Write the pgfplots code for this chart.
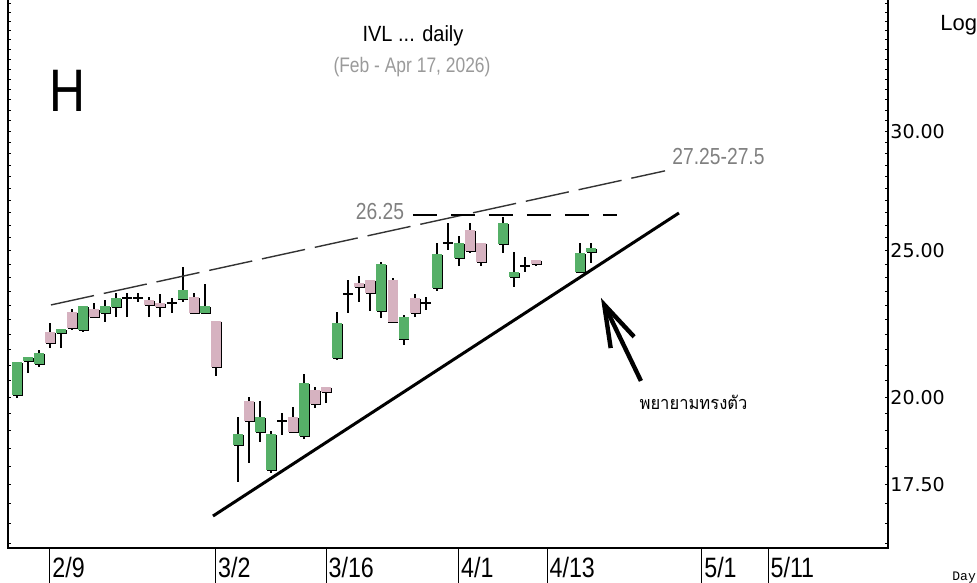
\documentclass[border=0pt]{standalone}
\usepackage{fontspec}
\setmainfont{Liberation Sans}
\newfontfamily\nar[FakeStretch=0.83]{Liberation Sans}
\newfontfamily\titlef[FakeStretch=0.91]{Liberation Sans}
\newfontfamily\dej{DejaVu Sans}
\newfontfamily\thai[Script=Thai,FakeStretch=0.92]{Loma}
\newfontfamily\mono{Liberation Mono}
\usepackage{pgfplots}
\pgfplotsset{compat=1.18}
\usetikzlibrary{arrows.meta}
\definecolor{upc}{RGB}{86,176,104}
\definecolor{dnc}{RGB}{214,178,192}
\definecolor{note}{RGB}{128,128,128}

\begin{document}
\begin{tikzpicture}
\useasboundingbox (0,0) rectangle (488.5pt,291pt);
\begin{axis}[
    at={(4pt,17pt)}, anchor=south west,
    scale only axis, width=440pt, height=276.5pt,
    ymode=log,
    xmin=0.2, xmax=79.84, ymin=15.886, ymax=36.955,
    axis line style={line width=0.7pt},
    xtick={4,19,29,41,49,63,69},
    xticklabels={2/9,3/2,3/16,4/1,4/13,5/1,5/11},
    xtick style={draw=none},
    xticklabel style={anchor=north west, inner sep=0pt, xshift=1pt, yshift=-4.5pt,
        font=\nar\fontsize{14}{14}\selectfont},
    ytick={17.5,20,25,30},
    yticklabels={17.50,20.00,25.00,30.00},
    minor ytick={16,16.5,17,17.5,18,18.5,19,19.5,20,20.5,21,21.5,22,22.5,23,23.5,24,24.5,25,25.5,
        26,26.5,27,27.5,28,28.5,29,29.5,30,30.5,31,31.5,32,32.5,33,33.5,34,34.5,35,35.5,36,36.5},
    ytick pos=both, yticklabel pos=right,
    tick align=inside, major tick length=1.6pt, minor tick length=1.6pt,
    every tick/.append style={line width=0.5pt, black},
    yticklabel style={anchor=west, inner sep=0pt, xshift=1pt,
        font=\dej\fontsize{9.5}{10}\selectfont},
    unbounded coords=jump,
    clip=false,
]
% wicks (low, high)
\addplot[black, line width=1pt] coordinates {
(1,19.97) (1,21.11) (1,nan)
(2,20.76) (2,21.27) (2,nan)
(3,20.95) (3,21.50) (3,nan)
(4,21.56) (4,22.40) (4,nan)
(5,21.56) (5,22.19) (5,nan)
(6,22.16) (6,22.88) (6,nan)
(7,22.09) (7,22.99) (7,nan)
(8,22.57) (8,23.09) (8,nan)
(9,22.43) (9,23.20) (9,nan)
(10,22.60) (10,23.45) (10,nan)
(11,22.60) (11,23.45) (11,nan)
(12,23.13) (12,23.45) (12,nan)
(13,22.60) (13,23.30) (13,nan)
(14,22.60) (14,23.41) (14,nan)
(15,22.74) (15,23.27) (15,nan)
(16,23.13) (16,24.40) (16,nan)
(17,22.74) (17,23.45) (17,nan)
(18,22.74) (18,23.77) (18,nan)
(19,20.66) (19,22.47) (19,nan)
(21,17.58) (21,19.40) (21,nan)
(22,18.09) (22,20.00) (22,nan)
(23,18.68) (23,19.88) (23,nan)
(24,17.82) (24,18.99) (24,nan)
(25,18.88) (25,19.52) (25,nan)
(26,18.96) (26,19.70) (26,nan)
(27,18.76) (27,20.72) (27,nan)
(28,19.67) (28,20.31) (28,nan)
(29,19.82) (29,20.31) (29,nan)
(30,21.17) (30,22.78) (30,nan)
(31,22.74) (31,23.92) (31,nan)
(32,23.13) (32,24.06) (32,nan)
(33,22.81) (33,23.92) (33,nan)
(34,22.57) (34,24.58) (34,nan)
(35,22.43) (35,23.99) (35,nan)
(36,21.66) (36,22.67) (36,nan)
(37,22.60) (37,23.41) (37,nan)
(38,22.85) (38,23.30) (38,nan)
(39,23.52) (39,25.31) (39,nan)
(40,25.04) (40,26.09) (40,nan)
(41,24.43) (41,25.58) (41,nan)
(42,24.92) (42,26.09) (42,nan)
(43,24.43) (43,25.31) (43,nan)
(45,24.92) (45,26.33) (45,nan)
(46,23.66) (46,24.96) (46,nan)
(47,24.21) (47,24.77) (47,nan)
(48,24.43) (48,24.66) (48,nan)
(52,24.17) (52,25.31) (52,nan)
(53,24.55) (53,25.31) (53,nan)
};
% body shadows
\addplot[black, line width=5pt, xshift=0.45pt, yshift=-0.45pt] coordinates {
(1,20.07) (1,21.11) (1,nan) (2,21.14) (2,21.27) (2,nan) (3,21.04) (3,21.40) (3,nan)
(5,22.06) (5,22.19) (5,nan) (7,22.16) (7,22.99) (7,nan) (9,22.74) (9,22.99) (9,nan)
(10,22.95) (10,23.27) (10,nan) (16,23.23) (16,23.56) (16,nan) (18,22.74) (18,22.99) (18,nan)
(21,18.59) (21,18.91) (21,nan) (23,18.96) (23,19.40) (23,nan) (24,17.90) (24,18.91) (24,nan)
(27,18.85) (27,20.44) (27,nan) (30,21.24) (30,22.40) (30,nan) (34,22.81) (34,24.51) (34,nan)
(36,21.86) (36,22.60) (36,nan) (39,23.63) (39,24.89) (39,nan) (41,24.73) (41,25.31) (41,nan)
(45,25.27) (45,26.09) (45,nan) (46,24.03) (46,24.21) (46,nan) (52,24.21) (52,24.92) (52,nan)
(53,24.96) (53,25.11) (53,nan)
(4,22.09) (4,21.73) (4,nan) (6,22.78) (6,22.23) (6,nan) (8,22.88) (8,22.60) (8,nan)
(13,23.20) (13,23.02) (13,nan) (14,23.09) (14,22.95) (14,nan) (17,23.30) (17,22.74) (17,nan)
(19,22.47) (19,20.95) (19,nan) (22,19.88) (22,19.28) (22,nan) (26,19.40) (26,18.96) (26,nan)
(28,20.22) (28,19.79) (28,nan) (29,20.31) (29,20.16) (29,nan) (32,23.81) (32,23.66) (32,nan)
(33,23.92) (33,23.45) (33,nan) (35,23.92) (35,22.43) (35,nan) (37,23.27) (37,22.74) (37,nan)
(42,25.81) (42,25.00) (42,nan) (43,25.31) (43,24.58) (43,nan) (48,24.66) (48,24.51) (48,nan)
};
% rising bodies
\addplot[upc, line width=5pt] coordinates {
(1,20.07) (1,21.11) (1,nan) (2,21.14) (2,21.27) (2,nan) (3,21.04) (3,21.40) (3,nan)
(5,22.06) (5,22.19) (5,nan) (7,22.16) (7,22.99) (7,nan) (9,22.74) (9,22.99) (9,nan)
(10,22.95) (10,23.27) (10,nan) (16,23.23) (16,23.56) (16,nan) (18,22.74) (18,22.99) (18,nan)
(21,18.59) (21,18.91) (21,nan) (23,18.96) (23,19.40) (23,nan) (24,17.90) (24,18.91) (24,nan)
(27,18.85) (27,20.44) (27,nan) (30,21.24) (30,22.40) (30,nan) (34,22.81) (34,24.51) (34,nan)
(36,21.86) (36,22.60) (36,nan) (39,23.63) (39,24.89) (39,nan) (41,24.73) (41,25.31) (41,nan)
(45,25.27) (45,26.09) (45,nan) (46,24.03) (46,24.21) (46,nan) (52,24.21) (52,24.92) (52,nan)
(53,24.96) (53,25.11) (53,nan)
};
% falling bodies
\addplot[dnc, line width=5pt] coordinates {
(4,22.09) (4,21.73) (4,nan) (6,22.78) (6,22.23) (6,nan) (8,22.88) (8,22.60) (8,nan)
(13,23.20) (13,23.02) (13,nan) (14,23.09) (14,22.95) (14,nan) (17,23.30) (17,22.74) (17,nan)
(19,22.47) (19,20.95) (19,nan) (22,19.88) (22,19.28) (22,nan) (26,19.40) (26,18.96) (26,nan)
(28,20.22) (28,19.79) (28,nan) (29,20.31) (29,20.16) (29,nan) (32,23.81) (32,23.66) (32,nan)
(33,23.92) (33,23.45) (33,nan) (35,23.92) (35,22.43) (35,nan) (37,23.27) (37,22.74) (37,nan)
(42,25.81) (42,25.00) (42,nan) (43,25.31) (43,24.58) (43,nan) (48,24.66) (48,24.51) (48,nan)
};
% doji
\addplot[black, line width=1pt] coordinates {
(10.55,23.27) (11.45,23.27) (11,nan) (11.55,23.27) (12.45,23.27) (12,nan)
(14.55,23.09) (15.45,23.09) (15,nan) (24.55,19.28) (25.45,19.28) (25,nan)
(30.55,23.41) (31.45,23.41) (31,nan) (37.55,23.09) (38.45,23.09) (38,nan)
(39.55,25.31) (40.45,25.31) (40,nan) (46.55,24.43) (47.45,24.43) (47,nan)
};
% x tick lines below the axis
\pgfplotsinvokeforeach{4,19,29,41,49,63,69}{
  \draw[line width=0.5pt] (axis cs:#1,15.886) -- ++(0pt,-17.5pt);
}
% trend lines and arrow
\draw[line width=0.7pt, black!80, dash pattern=on 22pt off 5pt] (axis cs:4.09,23.02) -- (axis cs:59.66,28.25);
\draw[line width=1.3pt, dash pattern=on 12pt off 7pt] (axis cs:36.85,26.41) -- (axis cs:55.31,26.41);
\draw[line width=1.5pt] (axis cs:18.75,16.68) -- (axis cs:60.92,26.49);
\draw[line width=2.2pt, -{Straight Barb[length=21pt,width=13pt]}] (axis cs:57.48,20.50) -- (axis cs:53.86,23.27);
\end{axis}
\begin{scope}[x=0.5pt, y=-0.5pt, shift={(0pt,291pt)}]
\node[anchor=base, inner sep=0pt, font=\nar\fontsize{30}{32}\selectfont] at (67.5,112) {H};
\node[anchor=base, inner sep=0pt, font=\titlef\fontsize{11}{12}\selectfont] at (413,42) {IVL ... daily};
\node[anchor=base, inner sep=0pt, text=note!80, font=\nar\fontsize{10.5}{11}\selectfont] at (412,73) {(Feb - Apr 17, 2026)};
\node[anchor=base, inner sep=0pt, text=note, font=\nar\fontsize{11.6}{12}\selectfont] at (380,220) {26.25};
\node[anchor=base, inner sep=0pt, text=note, font=\nar\fontsize{11.6}{12}\selectfont] at (718.5,165) {27.25-27.5};
\node[anchor=base, inner sep=0pt, font=\thai\fontsize{9}{11}\selectfont] at (693.5,410) {พยายามทรงตัว};
\node[anchor=base west, inner sep=0pt, font=\fontsize{11}{12}\selectfont] at (940,31) {Log};
\node[anchor=base west, inner sep=0pt, font=\mono\fontsize{6.5}{7}\selectfont] at (952,580) {Day};
\end{scope}
\end{tikzpicture}
\end{document}
